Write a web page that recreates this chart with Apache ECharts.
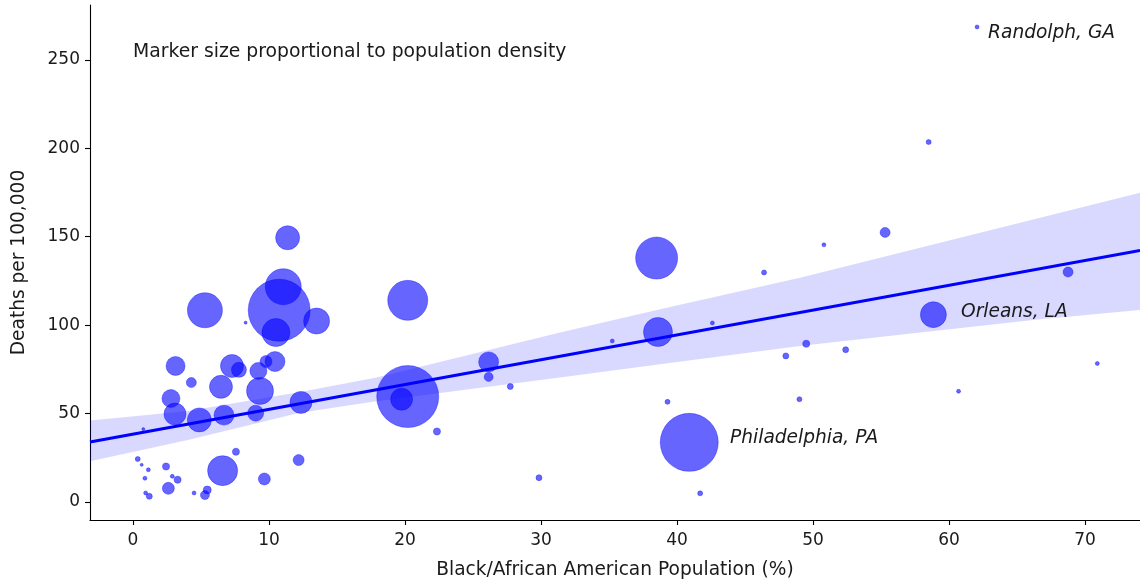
<!DOCTYPE html>
<html>
<head>
<meta charset="utf-8">
<script src="https://cdn.jsdelivr.net/npm/echarts@6/dist/echarts.min.js"></script>
<style>
html,body{margin:0;padding:0;background:#fff;}
#chart{width:1140px;height:585px;}
</style>
</head>
<body>
<div id="chart"></div>
<script>
// ---- data ----
// Black/African American population (%)
const blackPct = [0.35,0.64,1.13,0.88,0.93,1.2,2.43,2.89,3.28,2.6,4.49,5.46,5.29,6.59,7.57,9.66,12.18,0.76,
  3.13,4.29,2.79,3.09,4.88,6.69,6.47,7.28,7.79,5.29,8.28,9.02,9.34,9.22,9.78,10.44,12.35,11.37,11.05,10.75,10.51,13.5,
  20.2,20.2,19.75,26.15,26.15,27.74,22.35,29.85,35.24,38.5,38.6,40.9,39.3,41.7,42.6,46.4,50.8,55.3,58.5,48.0,49.5,52.4,49.0,
  58.85,60.7,68.75,70.9,62.06];
// Deaths per 100,000
const deathsPer100k = [24.3,21.0,18.2,13.4,5.1,3.2,20.1,14.5,12.6,7.7,5.1,6.8,3.9,17.7,28.4,13.0,23.7,41.2,
  76.9,67.5,58.5,49.7,46.4,49.1,65.1,76.9,74.7,108.4,101.4,50.2,62.8,74.1,79.4,79.4,56.3,149.4,121.7,108.4,95.8,102.3,
  114.0,59.6,58.1,79.2,70.7,65.3,39.9,13.7,91.0,137.9,96.1,33.7,56.6,4.9,101.2,129.8,145.4,152.4,203.5,82.6,89.5,86.1,58.1,
  105.9,62.6,130.0,78.3,268.6];
// Population density (people per sq. mile)
const popDensity = [88,32,56,56,56,126,172,56,172,504,56,224,284,3150,172,504,424,32,
  1264,350,1134,1694,2016,1400,1852,1852,788,4288,32,896,2552,1012,504,1400,1694,2016,4536,13454,2744,2366,
  5600,13454,1694,1400,284,126,172,126,56,6174,2944,11774,88,88,56,88,56,350,88,126,172,126,88,
  2366,56,350,56,56];
// Annotated counties: [x, y, label]
const annotations = [
  [62.87, 265.2, 'Randolph, GA'],
  [60.88, 107.2, 'Orleans, LA'],
  [43.9, 36.1, 'Philadelphia, PA']
];
// Regression line end points
const fitX = [-3.16, 74.04];
const fitY = [33.9, 142.2];
// Confidence band
const bandX    = [-3.31, 4.04, 12.28, 17.9, 31.4, 38.75, 49.04, 56.4, 66.7, 74.04];
const bandLow  = [22.7, 35.0, 50.5, 57.0, 70.4, 77.9, 88.2, 94.5, 103.3, 108.5];
const bandHigh = [45.9, 51.5, 62.2, 70.4, 95.8, 108.9, 126.8, 140.9, 160.7, 174.8];
// Tick labels
const xTicks = [0,10,20,30,40,50,60,70];
const yTicks = [0,50,100,150,200,250];
const xTitle = 'Black/African American Population (%)';
const yTitle = 'Deaths per 100,000';
const noteText = 'Marker size proportional to population density';

// ---- build ----
const points = blackPct.map((x,i)=>[x, deathsPer100k[i], popDensity[i]]);
const fitLine = fitX.map((x,i)=>[x, fitY[i]]);
const bandData = [bandX.map((x,i)=>[x, bandLow[i], bandHigh[i]])];

const chart = echarts.init(document.getElementById('chart'), null, {renderer:'canvas'});
const FONT = 'DejaVu Sans';
const TXT = '#1a1a1a';

chart.setOption({
  animation:false,
  backgroundColor:'#ffffff',
  textStyle:{fontFamily:FONT},
  grid:{left:90, top:5, right:0, bottom:64, containLabel:false},
  xAxis:{
    type:'value', min:-3.16, max:74.04,
    name:xTitle, nameLocation:'middle', nameGap:41,
    nameTextStyle:{fontFamily:FONT, fontSize:18.6, color:TXT},
    splitLine:{show:false},
    axisLine:{show:true, onZero:false, lineStyle:{color:'#000', width:1.1}},
    axisTick:{show:true, length:5, inside:false, lineStyle:{color:'#000', width:1.1}, customValues:xTicks},
    axisLabel:{fontFamily:FONT, fontSize:17, color:TXT, margin:12, customValues:xTicks}
  },
  yAxis:{
    type:'value', min:-10.2, max:281,
    name:yTitle, nameLocation:'middle', nameGap:61, nameRotate:90,
    nameTextStyle:{fontFamily:FONT, fontSize:18.6, color:TXT},
    splitLine:{show:false},
    axisLine:{show:true, onZero:false, lineStyle:{color:'#000', width:1.1}},
    axisTick:{show:true, length:5, inside:false, lineStyle:{color:'#000', width:1.1}, customValues:yTicks},
    axisLabel:{fontFamily:FONT, fontSize:17, color:TXT, margin:10, customValues:yTicks}
  },
  graphic:[{
    type:'text', left:133, top:43,
    style:{text:noteText, font:'18.8px "DejaVu Sans"', fill:TXT}
  }],
  series:[
    {
      type:'custom', name:'band', z:1, clip:true,
      data:bandData,
      renderItem:function(params, api){
        const pts = bandData[0];
        const upper = pts.map(p=>api.coord([p[0], p[2]]));
        const lower = pts.map(p=>api.coord([p[0], p[1]])).reverse();
        return {
          type:'polygon',
          shape:{points:upper.concat(lower)},
          style:{fill:'rgba(0,0,255,0.15)', stroke:null}
        };
      },
      encode:{x:0, y:1}
    },
    {
      type:'scatter', name:'counties', z:2,
      data:points,
      symbolSize:function(v){ return Math.sqrt(v[2])*0.5345; },
      itemStyle:{color:'rgba(0,0,255,0.6)', borderColor:'rgba(0,0,255,0.35)', borderWidth:1, opacity:1}
    },
    {
      type:'line', name:'fit', z:3,
      data:fitLine, showSymbol:false, symbol:'none',
      lineStyle:{color:'#0000ff', width:3}
    },
    {
      type:'scatter', name:'labels', z:4,
      data:annotations.map(a=>({value:[a[0],a[1]], name:a[2]})),
      symbolSize:0,
      itemStyle:{opacity:1},
      label:{show:true, position:[0,0], align:'left', verticalAlign:'middle',
        formatter:p=>p.name, fontFamily:FONT, fontStyle:'italic', fontSize:18.6, color:TXT, opacity:1}
    }
  ]
});
</script>
</body>
</html>
